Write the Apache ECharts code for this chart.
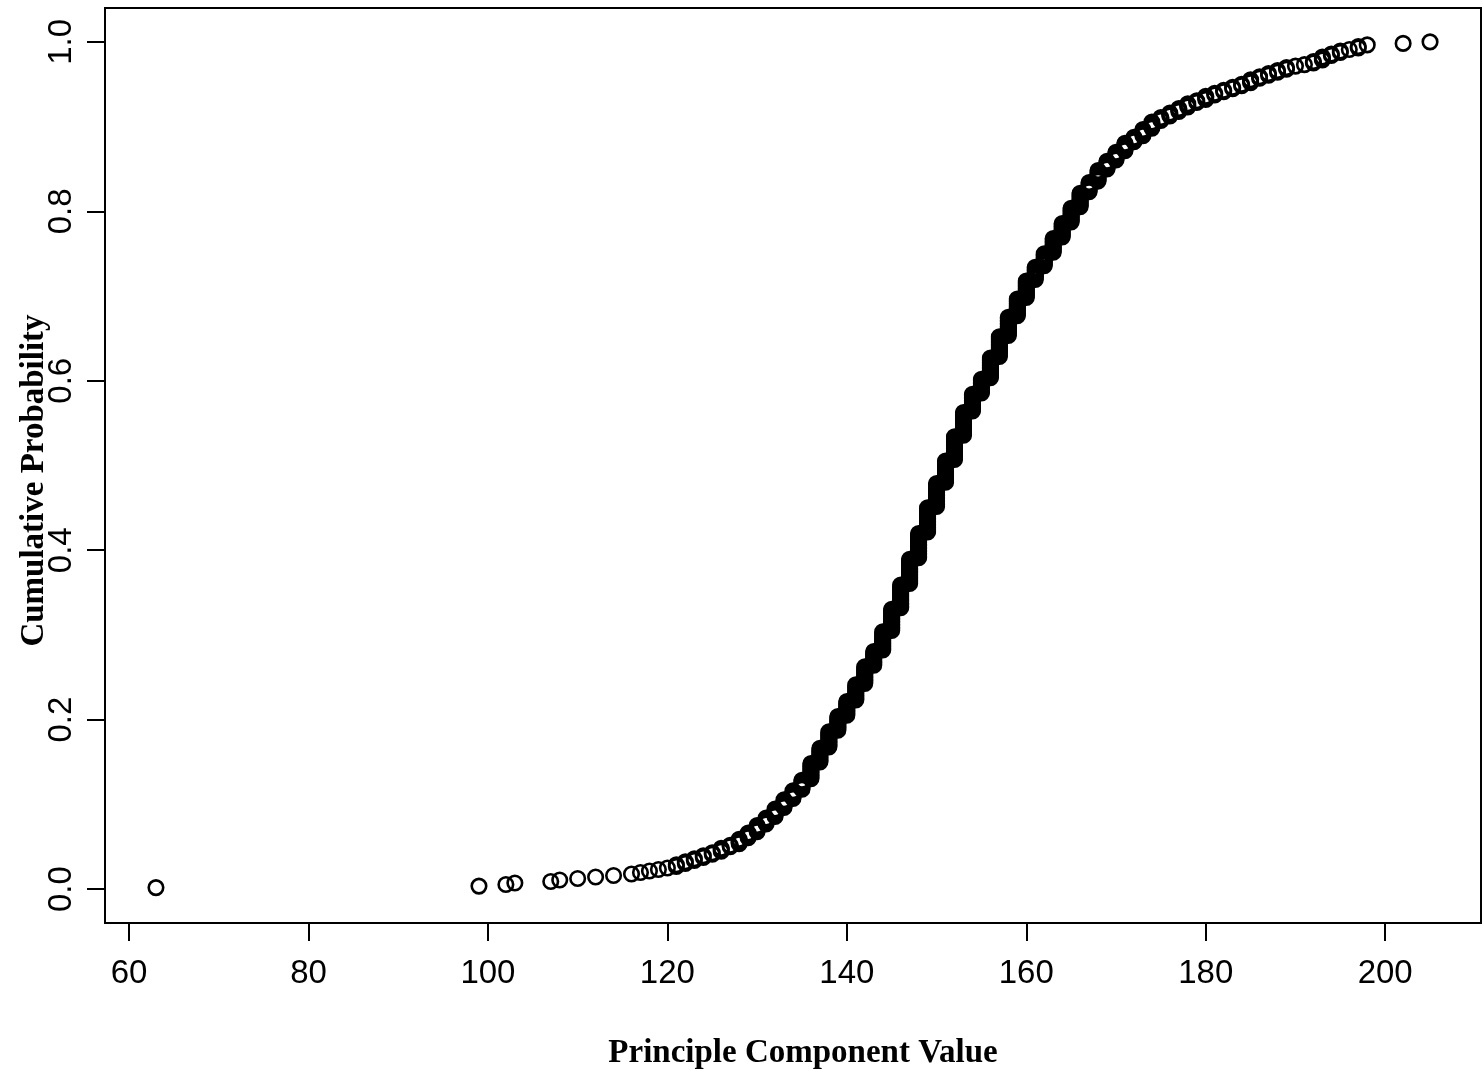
<!DOCTYPE html>
<html>
<head>
<meta charset="utf-8">
<script src="https://cdn.jsdelivr.net/npm/echarts@6/dist/echarts.min.js"></script>
<style>
html,body{margin:0;padding:0;background:#fff;}
#chart{width:1483px;height:1070px;}
</style>
</head>
<body>
<div id="chart"></div>
<script>
// Distinct principle component values (sorted) and how many observations share each value
const values = [63, 99, 102, 103, 107, 108, 110, 112, 114, 116,
  117, 118, 119, 120, 121, 122, 123, 124, 125,
  126, 127, 128, 129, 130, 131, 132, 133, 134, 135,
  136, 137, 138, 139, 140, 141, 142, 143, 144, 145,
  146, 147, 148, 149, 150, 151, 152, 153, 154, 155,
  156, 157, 158, 159, 160, 161, 162, 163, 164, 165,
  166, 167, 168, 169, 170, 171, 172, 173, 174, 175,
  176, 177, 178, 179, 180, 181, 182, 183, 184, 185,
  186, 187, 188, 189, 190, 191, 192, 193, 194, 195,
  196, 197, 198, 202, 205];
const counts = [1, 1, 1, 1, 1, 1, 1, 1, 1, 1,
  1, 1, 1, 1, 2, 2, 2, 2, 2,
  3, 2, 4, 4, 5, 5, 6, 6, 6, 7,
  11, 10, 11, 10, 10, 11, 12, 10, 13, 15,
  16, 17, 17, 17, 16, 15, 16, 16, 12, 10,
  14, 14, 13, 12, 12, 9, 9, 10, 10, 10,
  10, 7, 8, 6, 6, 6, 4, 5, 5, 3,
  3, 3, 3, 2, 3, 2, 2, 2, 2, 3,
  2, 2, 2, 2, 1, 1, 2, 3, 2, 2,
  1, 2, 1, 1, 1];
const xTicks = [60, 80, 100, 120, 140, 160, 180, 200];
const yTicks = [0, 0.2, 0.4, 0.6, 0.8, 1.0];

// empirical cumulative probability (rank / n) of the sorted observations
const n = counts.reduce((a, b) => a + b, 0);
const points = [];
let rank = 0;
values.forEach((v, i) => {
  for (let k = 0; k < counts[i]; k++) {
    rank += 1;
    points.push([v, rank / n]);
  }
});

const xMin = 63, xMax = 205;
const xPad = (xMax - xMin) * 0.04;
const yPad = 0.04;

const chart = echarts.init(document.getElementById('chart'), null, {renderer: 'canvas'});
chart.setOption({
  animation: false,
  backgroundColor: '#ffffff',
  grid: {
    left: 105, right: 2, top: 8, bottom: 147,
    outerBoundsMode: 'none',
    containLabel: false,
    show: true, borderColor: '#000', borderWidth: 2, backgroundColor: 'transparent'
  },
  xAxis: {
    type: 'value',
    min: xMin - xPad, max: xMax + xPad,
    name: 'Principle Component Value',
    nameLocation: 'middle',
    nameGap: 114,
    nameMoveOverlap: false,
    nameTextStyle: {fontFamily: 'Liberation Serif', fontWeight: 'bold', fontSize: 33, color: '#000', padding: [0, 0, 0, 20]},
    axisLine: {show: true, onZero: false, lineStyle: {color: '#000', width: 2}},
    axisTick: {show: true, inside: false, length: 18, customValues: xTicks, lineStyle: {color: '#000', width: 2}},
    axisLabel: {show: true, customValues: xTicks, margin: 34, fontFamily: 'Liberation Sans', fontSize: 33, color: '#000'},
    splitLine: {show: false}
  },
  yAxis: {
    type: 'value',
    min: -yPad, max: 1 + yPad,
    name: 'Cumulative Probability',
    nameLocation: 'middle',
    nameGap: 54,
    nameRotate: 90,
    nameMoveOverlap: false,
    nameTextStyle: {fontFamily: 'Liberation Serif', fontWeight: 'bold', fontSize: 33, color: '#000', padding: [0, 30, 0, 0]},
    axisLine: {show: true, onZero: false, lineStyle: {color: '#000', width: 2}},
    axisTick: {show: true, inside: false, length: 18, customValues: yTicks, lineStyle: {color: '#000', width: 2}},
    axisLabel: {show: true, customValues: yTicks, rotate: 90, margin: 27, fontFamily: 'Liberation Sans', fontSize: 33, color: '#000',
      formatter: v => v.toFixed(1)},
    splitLine: {show: false}
  },
  series: [{
    type: 'scatter',
    data: points,
    symbol: 'circle',
    symbolSize: 14.5,
    itemStyle: {color: 'rgba(255,255,255,0)', borderColor: '#000', borderWidth: 2.6, opacity: 1},
    emphasis: {disabled: true}
  }]
});
</script>
</body>
</html>
